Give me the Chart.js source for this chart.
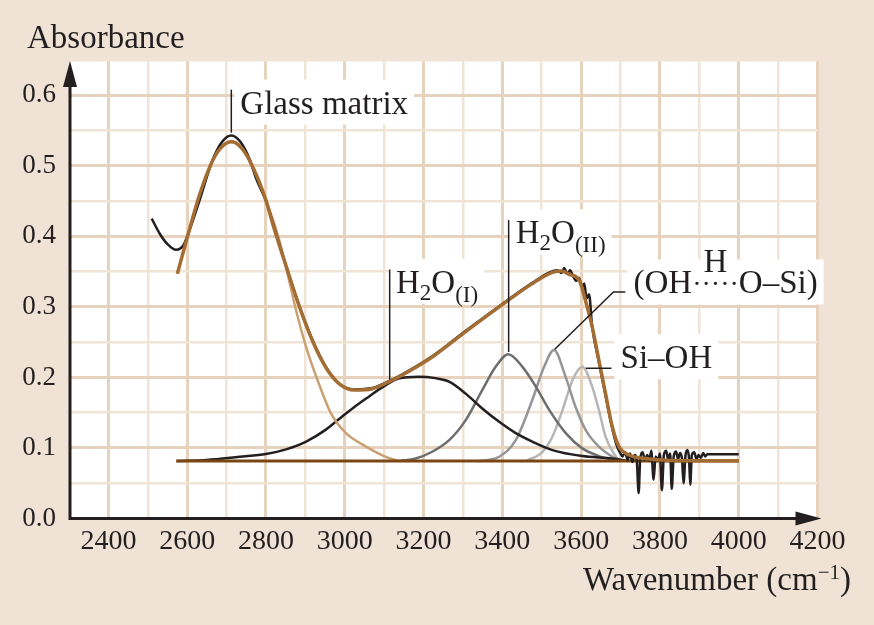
<!DOCTYPE html>
<html>
<head>
<meta charset="utf-8">
<script src="https://cdn.jsdelivr.net/npm/chart.js@4.4.1/dist/chart.umd.min.js"></script>
<style>
  html, body { margin: 0; padding: 0; background: #f0e3d6; }
  #wrap { width: 874px; height: 625px; }
</style>
</head>
<body>
<div id="wrap"><canvas id="myChart" width="874" height="625"></canvas></div>
<script>
// tick labels
const xTicks = [2400, 2600, 2800, 3000, 3200, 3400, 3600, 3800, 4000, 4200];
const yTicks = [0.0, 0.1, 0.2, 0.3, 0.4, 0.5, 0.6];

// measured spectrum (black)
const measuredX = [2510, 2530, 2550, 2572, 2590, 2606, 2632, 2665, 2690, 2712, 2735, 2758, 2775, 2800, 2817, 2851, 2885, 2918, 2952, 2986,
  3024, 3070, 3113, 3138, 3222, 3307, 3392, 3476, 3520, 3540, 3550, 3557, 3565, 3572, 3580, 3588, 3595, 3602, 3608, 3614,
  3620, 3628, 3645, 3662, 3679, 3690, 3700, 3705, 3712, 3718, 3724, 3730, 3736, 3741, 3746, 3750, 3756, 3762, 3768, 3773,
  3778, 3784, 3789, 3795, 3800, 3805, 3810, 3816, 3821, 3826, 3830, 3835, 3841, 3846, 3851, 3856, 3860, 3865, 3870, 3874,
  3877, 3881, 3887, 3893, 3898, 3904, 3910, 3915, 3920, 4000];
const measuredY = [0.425, 0.404, 0.389, 0.381, 0.387, 0.409, 0.452, 0.509, 0.535, 0.543, 0.534, 0.510, 0.482, 0.450, 0.420, 0.358, 0.301, 0.253, 0.215, 0.191,
  0.183, 0.185, 0.195, 0.202, 0.230, 0.266, 0.301, 0.334, 0.349, 0.352, 0.348, 0.355, 0.347, 0.352, 0.343, 0.337, 0.341, 0.328, 0.333, 0.312,
  0.318, 0.272, 0.222, 0.174, 0.128, 0.104, 0.092, 0.088, 0.094, 0.083, 0.092, 0.080, 0.090, 0.084, 0.036, 0.085, 0.094, 0.083, 0.090, 0.082,
  0.096, 0.055, 0.088, 0.082, 0.092, 0.040, 0.090, 0.096, 0.083, 0.092, 0.042, 0.088, 0.095, 0.084, 0.093, 0.085, 0.050, 0.090, 0.097, 0.084,
  0.048, 0.090, 0.094, 0.084, 0.090, 0.086, 0.093, 0.088, 0.091, 0.091];

// total fit (brown)
const fitX = [2575, 2598, 2632, 2665, 2690, 2712, 2735, 2758, 2800, 2817, 2851, 2885, 2918, 2952, 2986, 3024, 3070, 3113, 3138, 3222,
  3307, 3392, 3476, 3527, 3550, 3570, 3595, 3611, 3628, 3645, 3662, 3679, 3696, 3722, 3764, 3850, 4000];
const fitY = [0.347, 0.394, 0.460, 0.508, 0.528, 0.534, 0.527, 0.508, 0.451, 0.418, 0.358, 0.300, 0.252, 0.214, 0.191, 0.182, 0.184, 0.194, 0.201, 0.229,
  0.265, 0.300, 0.333, 0.349, 0.351, 0.346, 0.338, 0.309, 0.272, 0.2245, 0.177, 0.130, 0.102, 0.090, 0.085, 0.082, 0.082];

// glass matrix component (tan)
const glassX = [2575, 2598, 2632, 2665, 2690, 2715, 2740, 2758, 2800, 2830, 2851, 2876, 2902, 2931, 2965, 3003, 3054, 3104, 3138];
const glassY = [0.347, 0.394, 0.460, 0.508, 0.528, 0.534, 0.525, 0.508, 0.451, 0.402, 0.356, 0.296, 0.243, 0.196, 0.149, 0.121, 0.102, 0.0875, 0.0815];

// H2O(I) component
const h2o1X = [2575, 2649, 2733, 2800, 2851, 2902, 2952, 3003, 3054, 3104, 3138, 3187, 3230, 3265, 3307, 3349, 3392, 3434, 3476, 3527, 3603, 3679, 3720];
const h2o1Y = [0.0815, 0.083, 0.0875, 0.0914, 0.098, 0.109, 0.126, 0.149, 0.170, 0.189, 0.1986, 0.201, 0.199, 0.194, 0.177, 0.156, 0.137, 0.121, 0.109, 0.097, 0.0885, 0.085, 0.0815];

// H2O(II) component
const h2o2X = [3140, 3180, 3222, 3265, 3307, 3349, 3383, 3415, 3451, 3485, 3519, 3561, 3603, 3645, 3690];
const h2o2Y = [0.0815, 0.085, 0.0946, 0.111, 0.1395, 0.182, 0.215, 0.233, 0.215, 0.187, 0.154, 0.121, 0.0994, 0.0885, 0.082];

// (OH...O-Si) component
const ohsiX = [3335, 3365, 3392, 3434, 3476, 3506, 3531, 3561, 3586, 3612, 3645, 3687, 3700];
const ohsiY = [0.0815, 0.083, 0.0875, 0.111, 0.168, 0.215, 0.239, 0.200, 0.158, 0.125, 0.102, 0.085, 0.0815];

// Si-OH component
const siohX = [3460, 3502, 3527, 3553, 3578, 3603, 3628, 3645, 3662, 3683, 3698];
const siohY = [0.0815, 0.0946, 0.116, 0.154, 0.196, 0.215, 0.187, 0.154, 0.116, 0.092, 0.0815];

// baseline
const baseX = [2572, 4000];
const baseY = [0.0815, 0.0815];

function pts(xs, ys) {
  return xs.map((x, i) => ({ x: x, y: ys[i] }));
}

const serif = "'Liberation Serif', 'Times New Roman', serif";
Chart.defaults.font.family = serif;
Chart.defaults.color = '#231f20';

function line(data, color, width) {
  return {
    data: data,
    borderColor: color,
    borderWidth: width,
    pointRadius: 0,
    fill: false,
    cubicInterpolationMode: 'monotone'
  };
}

function richWidth(ctx, parts) {
  let w = 0;
  parts.forEach(p => {
    ctx.font = p.size + 'px ' + serif;
    w += ctx.measureText(p.t).width;
  });
  return w;
}

function drawRich(ctx, x, y, parts) {
  let cx = x;
  parts.forEach(p => {
    ctx.font = p.size + 'px ' + serif;
    ctx.fillText(p.t, cx, y + (p.dy || 0));
    cx += ctx.measureText(p.t).width;
  });
  return cx;
}

// labels: anchor in data units, text parts
const labels = [
  { x: 2735, y: 0.574, parts: [{ t: 'Glass matrix', size: 33 }] },
  { x: 3130, y: 0.320, parts: [{ t: 'H', size: 33 }, { t: '2', size: 23, dy: 7 }, { t: 'O', size: 33 }, { t: '(I)', size: 23, dy: 9 }] },
  { x: 3434, y: 0.390, parts: [{ t: 'H', size: 33 }, { t: '2', size: 23, dy: 7 }, { t: 'O', size: 33 }, { t: '(II)', size: 23, dy: 9 }] },
  { x: 3733, y: 0.319, parts: [{ t: '(OH', size: 33 }, { t: '\u00b7\u00b7\u00b7\u00b7\u00b7', size: 28 }, { t: 'O\u2013Si)', size: 33 }] },
  { x: 3700, y: 0.213, parts: [{ t: 'Si\u2013OH', size: 33 }] }
];

const leaders = [
  [[2712, 0.547], [2712, 0.608]],
  [[3114, 0.197], [3114, 0.353]],
  [[3416, 0.236], [3416, 0.423]],
  [[3533, 0.240], [3682, 0.321], [3712, 0.321]],
  [[3612, 0.213], [3677, 0.213]]
];

const majorGrid = '#e7d3bd';
const minorGrid = '#f0e4d7';

const deco = {
  id: 'deco',
  beforeDraw(chart) {
    const ctx = chart.ctx, a = chart.chartArea;
    ctx.save();
    ctx.fillStyle = '#f0e3d6';
    ctx.fillRect(0, 0, chart.width, chart.height);
    ctx.fillStyle = '#ffffff';
    ctx.fillRect(a.left, a.top, a.right - a.left, a.bottom - a.top);
    ctx.restore();
  },
  beforeDatasetsDraw(chart) {
    const ctx = chart.ctx, xs = chart.scales.x, ys = chart.scales.y;
    ctx.save();
    ctx.fillStyle = '#ffffff';
    labels.forEach(l => {
      const px = xs.getPixelForValue(l.x), py = ys.getPixelForValue(l.y);
      const w = richWidth(ctx, l.parts);
      ctx.fillRect(px - 6, py - 34, w + 12, 45);
    });
    ctx.restore();
  },
  afterDatasetsDraw(chart) {
    const ctx = chart.ctx, a = chart.chartArea, xs = chart.scales.x, ys = chart.scales.y;
    ctx.save();
    // leader lines
    ctx.strokeStyle = '#231f20';
    ctx.lineWidth = 1.5;
    leaders.forEach(seg => {
      ctx.beginPath();
      seg.forEach((p, i) => {
        const px = xs.getPixelForValue(p[0]), py = ys.getPixelForValue(p[1]);
        if (i === 0) ctx.moveTo(px, py); else ctx.lineTo(px, py);
      });
      ctx.stroke();
    });
    // labels
    ctx.fillStyle = '#231f20';
    ctx.textBaseline = 'alphabetic';
    ctx.textAlign = 'left';
    labels.forEach((l, i) => {
      const px = xs.getPixelForValue(l.x), py = ys.getPixelForValue(l.y);
      drawRich(ctx, px, py, l.parts);
      if (i === 3) {
        // the bridging H above the dots
        ctx.font = '33px ' + serif;
        const w1 = ctx.measureText('(OH').width;
        ctx.font = '28px ' + serif;
        const wd = ctx.measureText('\u00b7\u00b7\u00b7\u00b7\u00b7').width;
        ctx.font = '33px ' + serif;
        ctx.textAlign = 'center';
        ctx.fillText('H', px + w1 + wd / 2, py - 21);
        ctx.textAlign = 'left';
      }
    });
    // axes with arrows
    ctx.strokeStyle = '#231f20';
    ctx.fillStyle = '#231f20';
    ctx.lineWidth = 3;
    const ax = a.left + 1, ay = a.bottom;
    ctx.beginPath();
    ctx.moveTo(ax, ay + 1.5);
    ctx.lineTo(ax, a.top + 20);
    ctx.moveTo(ax - 1.5, ay);
    ctx.lineTo(a.right - 15, ay);
    ctx.stroke();
    ctx.beginPath();
    ctx.moveTo(ax, a.top + 1);
    ctx.lineTo(ax - 7, a.top + 27);
    ctx.lineTo(ax + 7, a.top + 27);
    ctx.closePath();
    ctx.fill();
    ctx.beginPath();
    ctx.moveTo(a.right + 4, ay);
    ctx.lineTo(a.right - 22, ay - 7);
    ctx.lineTo(a.right - 22, ay + 7);
    ctx.closePath();
    ctx.fill();
    // axis titles
    ctx.font = '33px ' + serif;
    ctx.textAlign = 'left';
    ctx.fillText('Absorbance', 27, 48);
    const tparts = [{ t: 'Wavenumber (cm', size: 33 }, { t: '\u22121', size: 21, dy: -11 }, { t: ')', size: 33 }];
    const tw = richWidth(ctx, tparts);
    drawRich(ctx, 851 - tw, 590, tparts);
    ctx.restore();
  }
};

const ctx = document.getElementById('myChart');
new Chart(ctx, {
  type: 'line',
  data: {
    datasets: [
      line(pts(fitX, fitY), '#a36d34', 3.5),
      line(pts(measuredX, measuredY), '#231f20', 2.5),
      line(pts(baseX, baseY), '#7a4612', 3),
      line(pts(glassX, glassY), '#c9a174', 2.5),
      line(pts(h2o1X, h2o1Y), '#231f20', 2.5),
      line(pts(h2o2X, h2o2Y), '#6d6e70', 2.5),
      line(pts(ohsiX, ohsiY), '#939598', 2.5),
      line(pts(siohX, siohY), '#b5b6b8', 2.5)
    ]
  },
  options: {
    responsive: false,
    animation: false,
    devicePixelRatio: 1,
    layout: { padding: { left: 0, right: 56.5, top: 60, bottom: 0 } },
    plugins: { legend: { display: false }, tooltip: { enabled: false } },
    scales: {
      x: {
        type: 'linear',
        min: 2300,
        max: 4200,
        afterFit(scale) { scale.height = 106.5; scale.paddingLeft = 0; scale.paddingRight = 0; },
        grid: {
          color: c => (c.tick && c.tick.value % 200 === 0) ? majorGrid : minorGrid,
          lineWidth: c => (c.tick && c.tick.value % 200 === 0) ? 3 : 2.5,
          drawTicks: false
        },
        border: { display: false },
        ticks: {
          stepSize: 100,
          autoSkip: false,
          maxRotation: 0,
          padding: 6,
          font: { size: 28 },
          color: '#231f20',
          callback: v => xTicks.includes(v) ? String(v) : ''
        }
      },
      y: {
        min: 0,
        max: 0.65,
        afterFit(scale) { scale.width = 69; scale.paddingTop = 0; scale.paddingBottom = 0; },
        grid: {
          color: c => (c.tick && Math.round(c.tick.value * 100) % 10 === 0) ? majorGrid : minorGrid,
          lineWidth: c => (c.tick && Math.round(c.tick.value * 100) % 10 === 0) ? 3 : 2.5,
          drawTicks: false
        },
        border: { display: false },
        ticks: {
          stepSize: 0.05,
          autoSkip: false,
          padding: 13,
          font: { size: 27 },
          color: '#231f20',
          callback: v => {
            const r = Math.round(v * 100);
            return (r % 10 === 0 && yTicks.includes(r / 100)) ? (r / 100).toFixed(1) : '';
          }
        }
      }
    }
  },
  plugins: [deco]
});
</script>
</body>
</html>
